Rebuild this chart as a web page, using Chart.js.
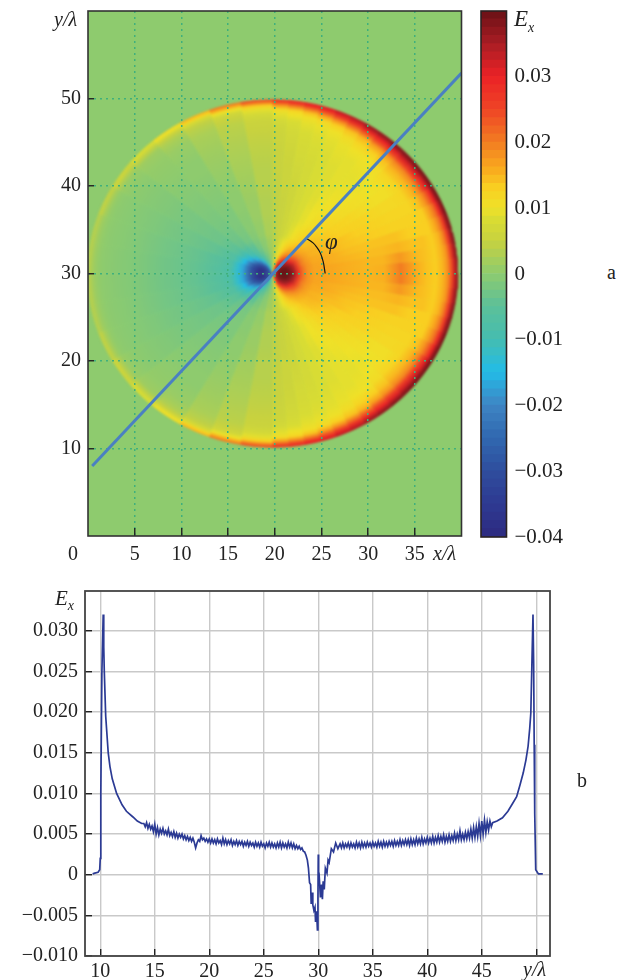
<!DOCTYPE html>
<html>
<head>
<meta charset="utf-8">
<script src="https://cdn.jsdelivr.net/npm/chart.js@4"></script>
<style>
  html, body { margin: 0; padding: 0; background: #fff; }
  #page { position: relative; width: 628px; height: 980px; overflow: hidden; font-family: "Liberation Serif", serif; color: #222; }
  .box { position: absolute; }
  #fieldBox { left: 88px; top: 11px; width: 373px; height: 525px; overflow: hidden; background: #8ecb6e; }
  /* field chart is drawn square-scaled so the bins stay round, then stretched to the axes */
  #fieldInner { width: 350px; height: 525px; transform: scaleX(1.0657); transform-origin: 0 0; filter: blur(1.1px); }
  .txt { position: absolute; font-size: 20px; line-height: 20px; white-space: nowrap; }
  .txt i sub { font-size: 14px; line-height: 0; }
</style>
</head>
<body>
<div id="page">
  <div class="box" id="fieldBox"><div id="fieldInner"><canvas id="fieldChart"></canvas></div></div>
  <div class="box" style="left:0;top:0;width:470px;height:570px"><canvas id="axesChart"></canvas></div>
  <div class="box" style="left:470px;top:0;width:100px;height:555px"><canvas id="barChart"></canvas></div>
  <div class="box" style="left:0;top:580px;width:628px;height:400px"><canvas id="lineChart"></canvas></div>
  <div class="txt" style="left:54px;top:9px"><i>y/λ</i></div>
  <div class="txt" style="left:68px;top:543px">0</div>
  <div class="txt" style="left:433px;top:543px"><i>x/λ</i></div>
  <div class="txt" style="left:325px;top:232px;font-size:23px"><i>φ</i></div>
  <div class="txt" style="left:514px;top:9px;font-size:23px"><i>E<sub>x</sub></i></div>
  <div class="txt" style="left:607px;top:262px">a</div>
  <div class="txt" style="left:577px;top:770px">b</div>
  <div class="txt" style="left:55px;top:588px;font-size:21px"><i>E<sub>x</sub></i></div>
  <div class="txt" style="left:523px;top:959px"><i>y/λ</i></div>
</div>
<script>
// panel a: field in polar sectors round the source (upper half), units of 1e-3.
// each row is one sector, each column the value at RADIUS_NODES
const ANGLE_EDGES = [0, 5, 10, 15, 20, 25, 30, 35, 40, 45, 50, 55, 60, 65, 70, 75, 80, 85, 90, 100, 110, 120, 130, 140, 150, 160, 170, 180];
const RADIUS_NODES = [0.2, 0.6, 1, 1.4, 1.8, 2.25, 2.75, 3.25, 3.75, 4.5, 5.5, 6.75, 8.25, 10, 12, 13.75, 15.25, 16.5, 17.5, 18.25, 18.75, 19.2, 19.55, 19.78];
const FIELD = [
  [30, 38, 40, 40, 39, 36, 27, 21, 18, 16.5, 16.5, 16, 15.5, 15, 15.5, 20, 16, 14, 13, 15, 18, 24, 33, 36],
  [30, 38, 40, 40, 39, 36, 27, 21, 18, 16.5, 16.5, 16, 15.5, 15, 15, 17.5, 15, 14, 13, 15, 18, 25, 34, 37],
  [30, 38, 40, 40, 39, 35, 26, 21, 18, 16.5, 16, 15.5, 15, 14.5, 14.5, 15, 14, 14, 13, 15, 19, 26, 35, 38],
  [30, 38, 40, 40, 38, 35, 26, 20, 18, 16, 16, 15.5, 14.5, 14, 14, 14, 13, 13, 13, 16, 20, 27, 36, 38],
  [30, 38, 40, 40, 38, 34, 25, 20, 17.5, 16, 15.5, 15, 14, 13.5, 13, 12.5, 12.5, 12.5, 13, 17, 21, 29, 36, 39],
  [29, 38, 39, 39, 37, 33, 25, 20, 17.5, 15.5, 15, 14.5, 14, 13, 12.5, 12, 12, 12, 14, 18, 23, 30, 37, 39],
  [29, 37, 39, 38, 36, 31, 24, 19.5, 17, 15.5, 15, 14, 13, 12.5, 12, 11.5, 11.5, 12, 15, 19, 25, 31, 37, 39],
  [28, 37, 38, 37, 35, 29, 23, 19, 16.5, 15, 14.5, 13.5, 12.5, 12, 11, 10.5, 10.5, 12, 15, 19, 26, 32, 37, 39],
  [27, 36, 37, 36, 34, 27, 22, 18, 16, 14.5, 14, 13, 12, 11, 10.5, 10, 10.5, 12, 15, 19, 26, 32, 37, 38],
  [26, 35, 36, 35, 31, 25, 20, 17, 15.5, 14, 13, 12, 11.5, 10.5, 10, 9.5, 10, 11, 14, 18, 25, 31, 36, 38],
  [25, 34, 35, 33, 28, 23, 18.5, 16, 14.5, 13, 12, 11, 10.5, 10, 9.5, 9, 9.5, 10, 13, 17, 24, 30, 35, 37],
  [23, 32, 33, 30, 25, 21, 17, 15, 13.5, 11.5, 11, 10, 10, 9.5, 9, 9, 9, 10, 12, 15, 22, 29, 34, 36],
  [20, 30, 31, 26, 22, 18, 15, 13.5, 12.5, 10.5, 10, 9, 9, 8.5, 8.5, 8.5, 9, 9.5, 11, 14, 20, 27, 32, 34],
  [16, 26, 27, 22, 18, 15, 13, 12, 11, 9, 8.5, 8, 8, 8, 8, 8, 8.5, 9, 10, 13, 18, 25, 31, 33],
  [12, 20, 21, 17, 14, 12, 11, 10, 9.5, 7.5, 7, 7, 7, 7, 7, 7.5, 8, 8.5, 9.5, 11.5, 16, 23, 29, 31],
  [8, 14, 14, 12, 10, 9, 8.5, 8, 7.5, 6, 6, 6, 6, 6, 6.5, 7, 7.5, 8, 9, 10.5, 14, 21, 28, 30],
  [4, 7, 8, 7, 6.5, 6, 5.5, 5.5, 5, 5, 5, 5, 5, 5.5, 5.5, 6, 6.5, 7, 8, 10, 12, 19, 26, 28],
  [0, 1, 2, 2.5, 3, 3, 3.5, 3.5, 4, 4, 4, 4.5, 4.5, 4.5, 5, 5, 5.5, 6, 7, 9, 11, 17, 24, 27],
  [-1, -1.5, -1, -0.5, 0, 0.5, 1, 1.5, 1.5, 2.5, 2.5, 3, 3, 3.5, 3.5, 4, 4.5, 5, 5.5, 7, 9, 13, 20, 24],
  [-6, -7, -5, -4, -3, -2, -1, -0.5, -0.3, 0.5, 0.5, 1, 1, 1.5, 2, 2.5, 3, 3.5, 4, 5, 6.5, 10, 16, 20],
  [-14, -16, -12, -9, -7, -5, -3.5, -2.5, -2, -1, -0.5, -0.5, 0, 0, 0.5, 1, 1.5, 2, 2.5, 3.5, 4.5, 7.5, 12, 15],
  [-20, -25, -23, -18, -13, -9, -7, -5.5, -4.5, -2.5, -2, -1.5, -1.5, -1, -0.5, 0, 0, 0.5, 1, 2, 3, 5, 9, 11],
  [-24, -28, -30, -27, -22, -16, -11, -8.5, -7, -4, -3, -2.5, -2, -1.5, -1, -0.5, 0, 0.3, 0.5, 1, 1.5, 4, 7, 8],
  [-26, -32, -34, -33, -29, -22, -16, -12, -9.5, -5.5, -4.2, -3.2, -2.8, -2.3, -1.8, -1.2, -0.8, -0.4, 0, 0.5, 1, 3, 5.5, 6],
  [-28, -33, -37, -37, -33, -28, -21, -15, -11.5, -7, -5.5, -4.2, -3.5, -2.8, -2.2, -1.5, -1, -0.6, -0.3, 0, 0.5, 2, 4, 4.5],
  [-28, -33, -38, -39, -35, -30, -23, -17, -13, -8, -6.3, -5, -4, -3.2, -2.5, -1.7, -1, -0.6, -0.3, 0, 0.5, 1.5, 3, 3.5],
  [-28, -33, -38, -39, -35, -30, -23, -17, -13, -8.5, -6.8, -5.3, -4.2, -3.4, -2.7, -1.8, -1.1, -0.7, -0.3, 0, 0.5, 1.5, 3, 3.5],
];
const SOURCE_X = 19.8;
const SOURCE_Y = 30;
const FRONT_RADIUS = 19.85;

// streaks of the ripple band behind the front (upper half, mirrored below)
const RIPPLE_HIGH_X = [31.3, 32.7, 33.9, 35, 35.9, 36.8, 37.7, 38.6, 32.7, 34.5, 35.5, 36.6, 37.6, 34, 36.2, 38];
const RIPPLE_HIGH_Y = [41, 39.6, 38.5, 37.5, 35.8, 34.5, 33.2, 31.7, 36.6, 35.7, 34.1, 32.6, 31.2, 37, 35.2, 32.4];
const RIPPLE_LOW_X = [32, 33.3, 34.4, 35.5, 36.3, 37.2, 38.1, 33.6, 35, 36, 37.1, 34.8, 36.6, 38.4];
const RIPPLE_LOW_Y = [40.3, 39, 38, 36.7, 35.2, 33.8, 32.4, 36.2, 34.9, 33.4, 31.9, 37.4, 35.8, 33];
const RIPPLE_HIGH_VALUE = 20;
const RIPPLE_LOW_VALUE = 4;

const RAY_X = [0.45, 40];
const RAY_Y = [8, 52.9];
const ARC_X = [23.4, 24.1, 24.5, 24.9, 25.2, 25.4];
const ARC_Y = [34, 33.5, 33, 32.3, 31.3, 30];

const MAP_X_TICKS = [0, 5, 10, 15, 20, 25, 30, 35, 40];
const MAP_Y_TICKS = [0, 10, 20, 30, 40, 50, 60];

// colour bar
const CBAR_VALUES = [-40, -35, -30, -25, -20, -15, -10, -5, 0, 5, 8, 10, 13, 16, 20, 25, 30, 35, 40];
const CBAR_COLORS = ['#2d2a80', '#2e3a92', '#2f4e9e', '#3068b0', '#3e85c4', '#22bce8', '#45bdb0', '#5cc099', '#8ecb6e', '#c8d23f', '#d8dc34', '#efe128', '#f9cf21', '#f9a81e', '#f27c22', '#ee4426', '#ea2226', '#a81d24', '#691015'];
const CBAR_TICKS = [-0.04, -0.03, -0.02, -0.01, 0, 0.01, 0.02, 0.03, 0.04];

// panel b: section along the ray
const LINE_Y = [
  9.3, 9.5, 9.8, 9.95, 10, 10.05, 10.15, 10.27, 10.32, 10.37, 10.5, 10.73, 10.89, 11.1, 11.5, 12, 12.4, 13, 13.4, 13.8,
  14, 14.125, 14.25, 14.375, 14.5, 14.625, 14.75, 14.875,
  15, 15.125, 15.25, 15.375, 15.5, 15.625, 15.75, 15.875,
  16, 16.125, 16.25, 16.375, 16.5, 16.625, 16.75, 16.875,
  17, 17.125, 17.25, 17.375, 17.5, 17.625, 17.75, 17.875,
  18, 18.125, 18.25, 18.375, 18.5, 18.625, 18.75, 18.875,
  19, 19.125, 19.25, 19.375, 19.5, 19.625, 19.75, 19.875,
  20, 20.125, 20.25, 20.375, 20.5, 20.625, 20.75, 20.875,
  21, 21.125, 21.25, 21.375, 21.5, 21.625, 21.75, 21.875,
  22, 22.125, 22.25, 22.375, 22.5, 22.625, 22.75, 22.875,
  23, 23.125, 23.25, 23.375, 23.5, 23.625, 23.75, 23.875,
  24, 24.125, 24.25, 24.375, 24.5, 24.625, 24.75, 24.875,
  25, 25.125, 25.25, 25.375, 25.5, 25.625, 25.75, 25.875,
  26, 26.125, 26.25, 26.375, 26.5, 26.625, 26.75, 26.875,
  27, 27.125, 27.25, 27.375, 27.5, 27.625, 27.75, 27.875,
  28, 28.125, 28.25, 28.375, 28.5, 28.625, 28.75, 28.875,
  29, 29.1, 29.2, 29.3, 29.35, 29.45, 29.5, 29.6, 29.7, 29.75, 29.85, 29.92, 29.97, 30, 30.03, 30.1, 30.2, 30.3, 30.38, 30.45, 30.55, 30.65, 30.8, 30.9, 31, 31.2, 31.4, 31.6, 31.8,
  32, 32.125, 32.25, 32.375, 32.5, 32.625, 32.75, 32.875,
  33, 33.125, 33.25, 33.375, 33.5, 33.625, 33.75, 33.875,
  34, 34.125, 34.25, 34.375, 34.5, 34.625, 34.75, 34.875,
  35, 35.125, 35.25, 35.375, 35.5, 35.625, 35.75, 35.875,
  36, 36.125, 36.25, 36.375, 36.5, 36.625, 36.75, 36.875,
  37, 37.125, 37.25, 37.375, 37.5, 37.625, 37.75, 37.875,
  38, 38.125, 38.25, 38.375, 38.5, 38.625, 38.75, 38.875,
  39, 39.125, 39.25, 39.375, 39.5, 39.625, 39.75, 39.875,
  40, 40.125, 40.25, 40.375, 40.5, 40.625, 40.75, 40.875,
  41, 41.125, 41.25, 41.375, 41.5, 41.625, 41.75, 41.875,
  42, 42.125, 42.25, 42.375, 42.5, 42.625, 42.75, 42.875,
  43, 43.125, 43.25, 43.375, 43.5, 43.625, 43.75, 43.875,
  44, 44.125, 44.25, 44.375, 44.5, 44.625, 44.75, 44.875,
  45, 45.125, 45.25, 45.375, 45.5, 45.625, 45.75, 45.875,
  46, 46.4, 46.9, 47.4, 47.8, 48.2, 48.5, 48.8, 49.05, 49.25, 49.4, 49.5, 49.6, 49.7, 49.76, 49.81, 49.86, 49.95, 50.2, 50.6,
];
const LINE_EX = [
  0.0001, 0.0002, 0.0003, 0.0006, 0.002, 0.01, 0.025, 0.032, 0.028, 0.025, 0.0195, 0.015, 0.0133, 0.0118, 0.01, 0.0086, 0.0078, 0.0071, 0.0066, 0.0063,
  0.0063, 0.0059, 0.0064, 0.0057, 0.0062, 0.0056, 0.006, 0.0053,
  0.0062, 0.005, 0.0058, 0.0049, 0.0056, 0.0051, 0.0057, 0.005,
  0.0054, 0.0049, 0.0056, 0.0048, 0.0052, 0.0047, 0.0053, 0.0046,
  0.0051, 0.0045, 0.005, 0.0046, 0.005, 0.0044, 0.0048, 0.0043,
  0.0047, 0.0042, 0.0046, 0.0041, 0.0045, 0.004, 0.0033, 0.0039,
  0.0043, 0.0041, 0.0048, 0.0043, 0.0045, 0.0041, 0.0044, 0.004,
  0.0044, 0.0039, 0.0044, 0.0039, 0.0043, 0.0038, 0.0044, 0.0039,
  0.0042, 0.0037, 0.0045, 0.0038, 0.0043, 0.0037, 0.0042, 0.0038,
  0.0043, 0.0036, 0.0041, 0.0037, 0.0042, 0.0036, 0.0041, 0.0037,
  0.0041, 0.0035, 0.004, 0.0036, 0.0041, 0.0035, 0.004, 0.0036,
  0.0039, 0.0034, 0.004, 0.0035, 0.0039, 0.0034, 0.004, 0.0035,
  0.0038, 0.0033, 0.0039, 0.0035, 0.004, 0.0034, 0.0039, 0.0034,
  0.0038, 0.0033, 0.0039, 0.0034, 0.004, 0.0033, 0.0039, 0.0034,
  0.0038, 0.0033, 0.004, 0.0034, 0.0039, 0.0033, 0.0038, 0.0032,
  0.0036, 0.0032, 0.0035, 0.0031, 0.0033, 0.0029, 0.0028, 0.0024,
  0.0018, 0.0008, -0.001, -0.0012, -0.0036, -0.0022, -0.0037, -0.0044, -0.004, -0.0058, -0.0045, -0.0068, -0.003, 0.0025, -0.001, -0.0005, -0.0028, -0.0012, -0.003, -0.0008, -0.0018, 0.0008, 0.0002, 0.0018, 0.0015, 0.0032, 0.0028, 0.0039, 0.0032,
  0.0038, 0.0033, 0.0039, 0.0033, 0.0038, 0.0034, 0.0039, 0.0033,
  0.0039, 0.0034, 0.0038, 0.0033, 0.004, 0.0034, 0.0039, 0.0033,
  0.004, 0.0034, 0.0039, 0.0034, 0.004, 0.0035, 0.0039, 0.0034,
  0.004, 0.0035, 0.0039, 0.0034, 0.0041, 0.0035, 0.004, 0.0034,
  0.0041, 0.0035, 0.004, 0.0035, 0.0041, 0.0036, 0.0041, 0.0035,
  0.0042, 0.0036, 0.0041, 0.0036, 0.0043, 0.0036, 0.0042, 0.0037,
  0.0043, 0.0037, 0.0043, 0.0036, 0.0044, 0.0037, 0.0043, 0.0037,
  0.0045, 0.0038, 0.0044, 0.0038, 0.0046, 0.0038, 0.0044, 0.0039,
  0.0046, 0.0039, 0.0045, 0.0039, 0.0047, 0.0039, 0.0046, 0.004,
  0.0048, 0.004, 0.0047, 0.0041, 0.0049, 0.004, 0.0047, 0.0041,
  0.0049, 0.0041, 0.0048, 0.0042, 0.0051, 0.0042, 0.005, 0.0043,
  0.0054, 0.0043, 0.005, 0.0043, 0.0052, 0.0044, 0.0053, 0.0045,
  0.0056, 0.0045, 0.0058, 0.0046, 0.0059, 0.0047, 0.0063, 0.0048,
  0.0066, 0.005, 0.0067, 0.0052, 0.0065, 0.0055, 0.0066, 0.0059,
  0.0064, 0.0066, 0.007, 0.0078, 0.0087, 0.0096, 0.011, 0.0125, 0.0141, 0.0158, 0.018, 0.0199, 0.026, 0.032, 0.026, 0.016, 0.0075, 0.0006, 0.0001, 0.0001,
];
const LINE_X_TICKS = [10, 15, 20, 25, 30, 35, 40, 45, 50];
const LINE_Y_TICKS = [-0.01, -0.005, 0, 0.005, 0.01, 0.015, 0.02, 0.025, 0.03];

function fieldColor(v, alpha = 1) {
  let i = 0;
  while (i < CBAR_VALUES.length - 2 && v > CBAR_VALUES[i + 1]) i++;
  const t = Math.min(1, Math.max(0, (v - CBAR_VALUES[i]) / (CBAR_VALUES[i + 1] - CBAR_VALUES[i])));
  const a = CBAR_COLORS[i], b = CBAR_COLORS[i + 1];
  const ch = (s, k) => parseInt(s.slice(1 + k * 2, 3 + k * 2), 16);
  const mix = k => Math.round(ch(a, k) + (ch(b, k) - ch(a, k)) * t);
  return `rgba(${mix(0)},${mix(1)},${mix(2)},${alpha})`;
}

// one sector polygon, mirrored below the source
function sector(a0, a1, sign) {
  const out = [{ x: SOURCE_X, y: SOURCE_Y }];
  for (let i = 0; i <= 4; i++) {
    const a = (a0 + (a1 - a0) * i / 4) * Math.PI / 180;
    out.push({ x: SOURCE_X + FRONT_RADIUS * Math.cos(a), y: SOURCE_Y + sign * FRONT_RADIUS * Math.sin(a) });
  }
  return out;
}

function sectorFill(row, alpha) {
  return ctx => {
    const { chart } = ctx;
    const { x, y } = chart.scales;
    const cx = x.getPixelForValue(SOURCE_X), cy = y.getPixelForValue(SOURCE_Y);
    const rPx = x.getPixelForValue(SOURCE_X + FRONT_RADIUS) - cx;
    // scales have no size on the very first pass
    if (!Number.isFinite(cx) || !Number.isFinite(cy) || !(rPx > 0)) return fieldColor(row[0], alpha);
    const g = chart.ctx.createRadialGradient(cx, cy, 0, cx, cy, rPx);
    row.forEach((v, i) => g.addColorStop(RADIUS_NODES[i] / FRONT_RADIUS, fieldColor(v, alpha)));
    return g;
  };
}

function fieldDatasets() {
  const sets = [];
  // solid sectors first, then the same sectors half a bin round at half strength to soften the spokes
  [[0, 1], [0.5, 0.5]].forEach(([shift, alpha]) => {
    FIELD.forEach((row, ia) => {
      const a0 = ANGLE_EDGES[ia], a1 = ANGLE_EDGES[ia + 1];
      const d = (a1 - a0) * shift;
      [1, -1].forEach(sign => {
        const fill = sectorFill(row, alpha);
        sets.push({
          data: sector(a0 + d, Math.min(180, a1 + d), sign),
          showLine: true,
          fill: 'shape',
          backgroundColor: fill,
          borderColor: fill,
          borderWidth: alpha === 1 ? 0.8 : 0,
          pointRadius: 0,
          tension: 0,
        });
      });
    });
  });
  [[RIPPLE_HIGH_X, RIPPLE_HIGH_Y, RIPPLE_HIGH_VALUE], [RIPPLE_LOW_X, RIPPLE_LOW_Y, RIPPLE_LOW_VALUE]].forEach(([xs, ys, v]) => {
    [1, -1].forEach(sign => {
      sets.push({
        data: pairs(xs, ys.map(y => SOURCE_Y + sign * (y - SOURCE_Y))),
        showLine: false,
        pointStyle: 'line',
        pointRadius: 5.5,
        pointRotation: sign * -40,
        borderColor: fieldColor(v, 0.9),
        pointBorderColor: fieldColor(v, 0.9),
        pointBorderWidth: 1.3,
      });
    });
  });
  return sets;
}

function pairs(xs, ys) {
  return xs.map((x, i) => ({ x, y: ys[i] }));
}
const setTicks = list => scale => { scale.ticks = list.map(value => ({ value })); };
const fitBox = (w, h) => s => {
  if (w) s.width = w;
  if (h) s.height = h;
  s.paddingTop = s.paddingBottom = s.paddingLeft = s.paddingRight = 0;
};

const frame = {
  id: 'frame',
  afterDraw(chart, args, opts) {
    const { ctx, chartArea: a } = chart;
    ctx.save();
    ctx.strokeStyle = opts.color;
    ctx.lineWidth = opts.width;
    ctx.strokeRect(a.left, a.top, a.right - a.left, a.bottom - a.top);
    ctx.restore();
  },
};

Chart.defaults.animation = false;
Chart.defaults.responsive = true;
Chart.defaults.maintainAspectRatio = false;
Chart.defaults.layout.autoPadding = false;
Chart.defaults.font.family = '"Liberation Serif", serif';
Chart.defaults.font.size = 20;
Chart.defaults.color = '#222';
Chart.defaults.plugins.legend.display = false;
Chart.defaults.plugins.tooltip.enabled = false;

new Chart(document.getElementById('fieldChart'), {
  type: 'scatter',
  data: { datasets: fieldDatasets() },
  options: {
    layout: { padding: 0 },
    scales: {
      x: { display: false, min: 0, max: 40 },
      y: { display: false, min: 0, max: 60 },
    },
  },
});

new Chart(document.getElementById('axesChart'), {
  type: 'scatter',
  plugins: [frame],
  data: {
    datasets: [
      { data: pairs(RAY_X, RAY_Y), showLine: true, borderColor: '#4a80c2', borderWidth: 3, pointRadius: 0 },
      { data: pairs(ARC_X, ARC_Y), showLine: true, borderColor: '#111', borderWidth: 1.2, pointRadius: 0, tension: 0.4 },
    ],
  },
  options: {
    layout: { padding: { left: 0, top: 11, right: 8.5, bottom: 0 } },
    plugins: { frame: { color: '#333', width: 1.6 } },
    scales: {
      x: {
        min: 0, max: 40,
        afterBuildTicks: setTicks(MAP_X_TICKS),
        afterFit: fitBox(0, 34),
        grid: {
          color: c => (c.tick.value > 0 && c.tick.value < 40 ? '#3fb07c' : 'transparent'),
          lineWidth: 1.5,
          tickLength: -8,
          tickColor: c => (c.tick.value > 0 && c.tick.value < 40 ? '#222' : 'transparent'),
          tickWidth: 1.4,
        },
        border: { display: false, dash: [2, 4] },
        ticks: {
          maxRotation: 0, autoSkip: false, padding: 15,
          callback: v => (v > 0 && v < 40 ? String(v) : ''),
        },
      },
      y: {
        min: 0, max: 60,
        afterBuildTicks: setTicks(MAP_Y_TICKS),
        afterFit: fitBox(88, 0),
        grid: {
          color: c => (c.tick.value > 0 && c.tick.value < 60 ? '#3fb07c' : 'transparent'),
          lineWidth: 1.5,
          tickLength: -6,
          tickColor: c => (c.tick.value > 0 && c.tick.value < 60 ? '#222' : 'transparent'),
          tickWidth: 1.4,
        },
        border: { display: false, dash: [2, 4] },
        ticks: {
          autoSkip: false, padding: 13,
          callback: v => (v > 0 && v < 60 ? String(v) : ''),
        },
      },
    },
  },
});

// colour bar, drawn as thin floating bars
const cbarBands = [];
for (let v = -40; v < 40; v += 1.25) cbarBands.push(v);

new Chart(document.getElementById('barChart'), {
  type: 'bar',
  plugins: [frame],
  data: {
    labels: [''],
    datasets: cbarBands.map(v => ({
      data: [[v / 1000, (v + 1.3) / 1000]],
      backgroundColor: fieldColor(v + 0.6),
      grouped: false,
      barPercentage: 1,
      categoryPercentage: 1,
    })),
  },
  options: {
    layout: { padding: { left: 11, top: 11, right: 0, bottom: 18 } },
    plugins: { frame: { color: '#2a2222', width: 1.6 } },
    scales: {
      x: { display: false },
      y: {
        position: 'right',
        min: -0.04, max: 0.04,
        afterBuildTicks: setTicks(CBAR_TICKS),
        afterFit: fitBox(63.5, 0),
        grid: {
          drawOnChartArea: false,
          tickLength: -8,
          tickColor: c => {
            const v = c.tick.value;
            if (Math.abs(v) > 0.035) return 'transparent';
            return v < -0.015 ? '#fff' : '#222';
          },
          tickWidth: 1.4,
        },
        border: { display: false },
        ticks: {
          autoSkip: false, padding: 16, crossAlign: 'near',
          font: { size: 21 },
          callback: v => {
            if (v === 0) return '0';
            if (v > 0.035) return '';
            return (v < 0 ? '\u2212' : '') + Math.abs(v).toFixed(2);
          },
        },
      },
    },
  },
});

new Chart(document.getElementById('lineChart'), {
  type: 'scatter',
  plugins: [frame],
  data: {
    datasets: [{
      data: pairs(LINE_Y, LINE_EX),
      showLine: true,
      borderColor: '#2b3a94',
      borderWidth: 1.7,
      pointRadius: 0,
      tension: 0,
    }],
  },
  options: {
    layout: { padding: { left: 0, top: 11, right: 78, bottom: 0 } },
    plugins: { frame: { color: '#444', width: 1.8 } },
    scales: {
      x: {
        min: 8.6, max: 51.26,
        afterBuildTicks: setTicks(LINE_X_TICKS),
        afterFit: fitBox(0, 24),
        grid: { color: '#c9c9c9', lineWidth: 1.4, tickLength: -7, tickColor: '#222', tickWidth: 1.4 },
        border: { display: false },
        ticks: {
          maxRotation: 0, autoSkip: false, padding: 11,
          callback: v => (v < 50 ? String(v) : ''),
        },
      },
      y: {
        min: -0.01, max: 0.0349,
        afterBuildTicks: setTicks(LINE_Y_TICKS),
        afterFit: fitBox(85, 0),
        grid: { color: '#c9c9c9', lineWidth: 1.4, tickLength: -7, tickColor: '#222', tickWidth: 1.4 },
        border: { display: false },
        ticks: {
          autoSkip: false, padding: 14,
          callback: v => {
            if (v === 0) return '0';
            return (v < 0 ? '\u2212' : '') + Math.abs(v).toFixed(3);
          },
        },
      },
    },
  },
});
</script>
</body>
</html>
